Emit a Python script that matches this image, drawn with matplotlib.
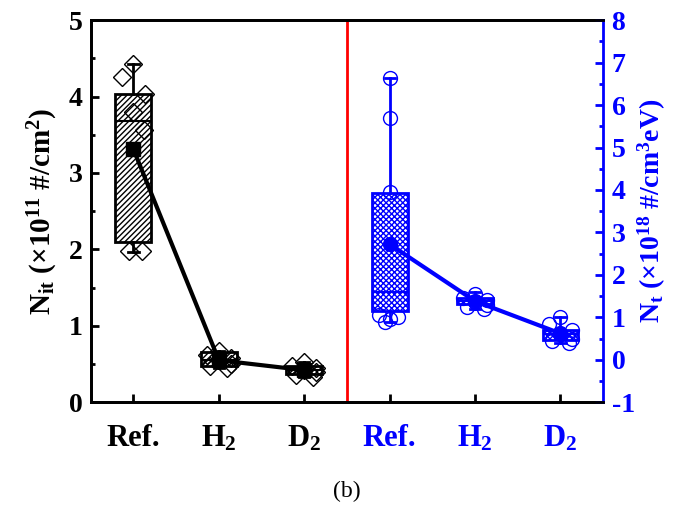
import matplotlib
matplotlib.use("Agg")
import matplotlib.pyplot as plt
from matplotlib.ticker import MultipleLocator

plt.rcParams['font.family'] = ['Liberation Serif', 'DejaVu Serif']
plt.rcParams['mathtext.fontset'] = 'custom'
plt.rcParams['mathtext.rm'] = 'Liberation Serif:bold'
plt.rcParams['mathtext.it'] = 'Liberation Serif:bold'
plt.rcParams['mathtext.bf'] = 'Liberation Serif:bold'
plt.rcParams['hatch.linewidth'] = 1.0
plt.rcParams['axes.unicode_minus'] = False

# ---------------- data ----------------
cats = ['Ref.', r'H$_2$', r'D$_2$', 'Ref.', r'H$_2$', r'D$_2$']

# Nit (x1e11 #/cm^2) box stats: Ref, H2, D2
nit_q1 = [2.10, 0.47, 0.37]
nit_med = [3.68, 0.55, 0.42]
nit_q3 = [4.03, 0.66, 0.47]
nit_lo = [1.97, 0.45, 0.33]
nit_hi = [4.42, 0.67, 0.53]
nit_mean = [3.31, 0.55, 0.42]
nit_pts = [
    [4.42, 4.25, 4.04, 3.80, 3.56, 1.98, 1.98],
    [0.67, 0.62, 0.58, 0.55, 0.50, 0.47, 0.45],
    [0.53, 0.48, 0.45, 0.42, 0.40, 0.36, 0.33],
]
nit_jit = [
    [0.0, -0.13, 0.14, 0.0, 0.12, -0.05, 0.10],
    [0.0, -0.14, 0.14, 0.0, 0.14, -0.10, 0.10],
    [0.0, -0.14, 0.14, 0.0, 0.14, -0.10, 0.10],
]

# Nt (x1e18 #/cm^3 eV) box stats: Ref, H2, D2
nt_q1 = [1.15, 1.31, 0.46]
nt_med = [1.60, 1.38, 0.60]
nt_q3 = [3.92, 1.45, 0.70]
nt_lo = [0.90, 1.20, 0.40]
nt_hi = [6.64, 1.60, 1.01]
nt_mean = [2.72, 1.38, 0.62]
nt_pts = [
    [6.64, 5.70, 3.95, 1.05, 1.00, 0.95, 0.90],
    [1.55, 1.45, 1.40, 1.35, 1.30, 1.25, 1.20],
    [1.01, 0.85, 0.70, 0.60, 0.50, 0.45, 0.40],
]
nt_jit = [
    [0.0, 0.0, 0.0, -0.12, 0.10, 0.0, -0.05],
    [0.0, -0.14, 0.14, 0.0, 0.14, -0.10, 0.10],
    [0.0, -0.14, 0.14, 0.0, 0.14, -0.10, 0.10],
]

# ---------------- figure ----------------
fig = plt.figure(figsize=(6.77, 5.17), dpi=100)
ax = fig.add_axes([0.134, 0.222, 0.757, 0.739])
ax2 = ax.twinx()

pos_l = [1, 2, 3]
pos_r = [4, 5, 6]


def make_stats(q1, med, q3, lo, hi):
    return [dict(q1=a, med=b, q3=c, whislo=d, whishi=e, fliers=[])
            for a, b, c, d, e in zip(q1, med, q3, lo, hi)]


def draw(axis, stats, pos, color, hatch, pts, jit, means, marker, meanmarker, ms):
    bp = axis.bxp(stats, positions=pos, widths=0.42, patch_artist=True,
                  showfliers=False, manage_ticks=False,
                  boxprops=dict(facecolor='white', edgecolor=color, linewidth=2, hatch=hatch),
                  medianprops=dict(color=color, linewidth=1.5),
                  whiskerprops=dict(color=color, linewidth=2),
                  capprops=dict(color=color, linewidth=2),
                  capwidths=0.12, zorder=2)
    for p in bp['boxes']:
        p.set_hatch(hatch)
    for x, vals, jj in zip(pos, pts, jit):
        xs = [x + j for j in jj]
        axis.plot(xs, vals, linestyle='none', marker=marker, markersize=ms,
                  markerfacecolor='none', markeredgecolor=color, markeredgewidth=1.0, zorder=3)
    axis.plot(pos, means, color=color, linewidth=3, marker=meanmarker,
              markersize=10, zorder=4)


draw(ax, make_stats(nit_q1, nit_med, nit_q3, nit_lo, nit_hi), pos_l, 'black',
     '//////', nit_pts, nit_jit, nit_mean, 'D', 's', 9)
draw(ax2, make_stats(nt_q1, nt_med, nt_q3, nt_lo, nt_hi), pos_r, 'blue',
     'xxxxxx', nt_pts, nt_jit, nt_mean, 'o', 'o', 10)

ax.axvline(3.5, color='red', linewidth=2, zorder=1)

ax.set_xlim(0.5, 6.5)
ax.set_ylim(0, 5)
ax2.set_ylim(-1, 8)

ax.set_xticks(pos_l + pos_r)
ax.set_xticklabels(cats, fontsize=22, fontweight='bold')
for i, lab in enumerate(ax.get_xticklabels()):
    lab.set_color('black' if i < 3 else 'blue')
ax.tick_params(axis='x', direction='in', length=6, width=2, pad=16)

ax.yaxis.set_major_locator(MultipleLocator(1))
ax.yaxis.set_minor_locator(MultipleLocator(0.5))
ax.tick_params(axis='y', which='major', direction='in', length=6, width=2, labelsize=20, pad=6)
ax.tick_params(axis='y', which='minor', direction='in', length=3, width=2)
for lab in ax.get_yticklabels():
    lab.set_fontweight('bold')

ax2.yaxis.set_major_locator(MultipleLocator(1))
ax2.yaxis.set_minor_locator(MultipleLocator(0.5))
ax2.tick_params(axis='y', which='major', direction='in', length=6, width=2,
                labelsize=20, colors='blue', pad=6)
ax2.tick_params(axis='y', which='minor', direction='in', length=3, width=2, colors='blue')
for lab in ax2.get_yticklabels():
    lab.set_fontweight('bold')

for s in ['left', 'bottom', 'top']:
    ax.spines[s].set_linewidth(2)
    ax2.spines[s].set_linewidth(2)
ax2.spines['right'].set_linewidth(2)
ax2.spines['right'].set_color('blue')
ax.spines['right'].set_visible(False)

ax.set_ylabel(r'N$_{\mathregular{it}}$ (×10$^{\mathregular{11}}$ #/cm$^{\mathregular{2}}$)',
              fontsize=21, fontweight='bold', labelpad=6)
ax2.set_ylabel(r'N$_{\mathregular{t}}$ (×10$^{\mathregular{18}}$ #/cm$^{\mathregular{3}}$eV)',
               fontsize=20, fontweight='bold', color='blue', rotation=90, labelpad=1)

fig.text(0.513, 0.05, '(b)', fontsize=17, ha='center', va='center')

fig.savefig('out.png', dpi=100)
